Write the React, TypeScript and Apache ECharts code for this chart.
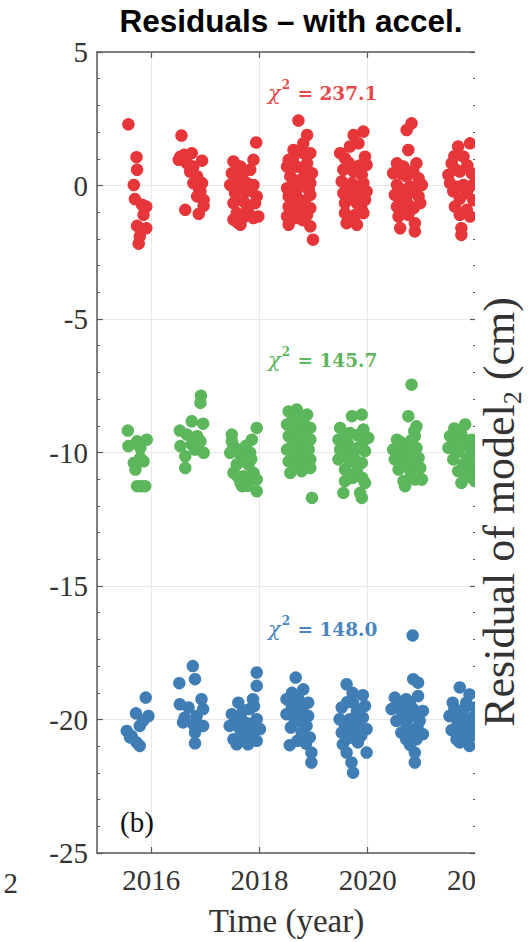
import React, { useEffect, useRef } from 'react';
import * as echarts from 'echarts';

const xTicks = [2016, 2018, 2020, 2022];
const yMin = -25;
const yMax = 5;
const yStep = 5;
const titleText = 'Residuals – with accel.';
const xName = 'Time (year)';
const rightAxisName = ['Residual of model', '2', ' (cm)'];
const panelTag = '(b)';
const cutTickLabel = '2';
const chiValues = ['237.1', '145.7', '148.0'];

const redPoints: [number, number][] = [
  [2015.58, 2.29], [2015.73, 1.06], [2015.74, 0.59], [2015.68, 0.02], [2015.70, -0.51], [2015.83, -0.72],
  [2015.91, -0.79], [2015.86, -1.10], [2015.74, -1.51], [2015.91, -1.60], [2015.79, -1.91], [2015.77, -2.18],
  [2016.56, 1.87], [2016.54, 1.08], [2016.61, 1.15], [2016.75, 1.21], [2016.66, 0.83], [2016.94, 0.93],
  [2016.72, 0.52], [2016.85, 0.34], [2016.78, 0.09], [2016.94, 0.09], [2016.91, -0.22], [2016.85, -0.41],
  [2016.97, -0.54], [2016.97, -0.76], [2016.63, -0.91], [2016.88, -1.06], [2016.51, 0.96], [2016.78, 0.71],
  [2016.88, -0.10],
  [2017.94, 1.61], [2017.52, 0.90], [2017.65, 0.71], [2017.89, 0.96], [2017.49, 0.46], [2017.71, 0.52],
  [2017.83, 0.59], [2017.46, 0.02], [2017.61, 0.21], [2017.77, 0.09], [2017.89, 0.02], [2017.55, -0.29],
  [2017.74, -0.22], [2017.95, -0.41], [2017.52, -0.66], [2017.71, -0.60], [2017.92, -0.66], [2017.58, -1.03],
  [2017.80, -1.03], [2017.98, -1.16], [2017.61, -1.41], [2017.89, -1.22], [2017.52, -1.28], [2017.65, -1.47],
  [2017.68, 0.35], [2017.66, -0.05], [2017.85, -0.20], [2017.78, -0.85], [2017.70, -1.20], [2017.60, 0.60],
  [2018.72, 2.43], [2018.88, 1.89], [2018.81, 1.58], [2018.63, 1.33], [2018.54, 0.96], [2018.81, 1.21],
  [2018.94, 1.21], [2018.51, 0.71], [2018.69, 0.71], [2018.88, 0.83], [2018.97, 0.46], [2018.57, 0.34],
  [2018.75, 0.21], [2018.94, 0.09], [2018.51, -0.10], [2018.69, -0.16], [2018.91, -0.16], [2018.54, -0.41],
  [2018.75, -0.54], [2018.94, -0.35], [2018.54, -0.79], [2018.72, -0.91], [2018.94, -0.85], [2018.51, -1.16],
  [2018.69, -1.22], [2018.54, -1.47], [2018.88, -1.10], [2018.94, -1.53], [2018.99, -2.03],
  [2018.62, 1.00], [2018.84, 0.50], [2018.62, 0.05], [2018.84, -0.60], [2018.63, -0.60], [2018.80, -1.30],
  [2018.62, -1.00], [2018.85, 0.10],
  [2019.74, 1.89], [2019.92, 2.02], [2019.83, 1.58], [2019.67, 1.46], [2019.95, 1.08], [2019.49, 1.21],
  [2019.58, 1.02], [2019.98, 0.77], [2019.55, 0.59], [2019.74, 0.52], [2019.89, 0.40], [2019.52, 0.15],
  [2019.71, 0.09], [2019.92, 0.09], [2019.55, -0.29], [2019.77, -0.29], [2019.98, -0.22], [2019.58, -0.66],
  [2019.80, -0.66], [2019.95, -0.54], [2019.58, -1.03], [2019.77, -1.10], [2019.92, -1.03], [2019.61, -1.41],
  [2019.80, -1.47],
  [2019.65, 0.85], [2019.85, 0.75], [2019.62, -0.05], [2019.86, -0.05], [2019.68, -0.45], [2019.88, -0.85],
  [2019.68, -1.25],
  [2020.81, 2.33], [2020.72, 2.08], [2020.75, 1.33], [2020.54, 0.83], [2020.90, 0.83], [2020.66, 0.71],
  [2020.47, 0.46], [2020.72, 0.34], [2020.94, 0.27], [2020.54, 0.02], [2020.78, -0.04], [2021.00, 0.02],
  [2020.50, -0.35], [2020.72, -0.41], [2020.94, -0.41], [2020.54, -0.79], [2020.75, -0.72], [2020.97, -0.66],
  [2020.57, -1.16], [2020.75, -1.10], [2020.60, -1.60], [2020.87, -1.41], [2020.87, -1.72],
  [2020.62, 0.45], [2020.84, 0.55], [2020.63, -0.15], [2020.85, -0.15], [2020.64, -0.55], [2020.85, -0.85],
  [2020.66, -0.95],
  [2021.67, 1.46], [2021.89, 1.58], [2021.55, 0.83], [2021.77, 1.08], [2021.49, 0.40], [2021.70, 0.52],
  [2021.92, 0.46], [2021.52, 0.09], [2021.77, 0.02], [2021.98, 0.09], [2021.58, -0.22], [2021.83, -0.29],
  [2021.61, -0.79], [2021.83, -0.91], [2021.70, -1.10], [2021.89, -1.16], [2021.73, -1.60], [2021.73, -1.85],
  [2021.62, 0.60], [2021.84, 0.75], [2021.66, -0.05], [2021.88, -0.05], [2021.70, -0.50], [2021.95, -0.55],
  [2021.60, 1.10],
];

const greenPoints: [number, number][] = [
  [2015.57, -9.18], [2015.58, -9.76], [2015.74, -9.58], [2015.92, -9.52], [2015.80, -10.20], [2015.68, -10.39],
  [2015.86, -10.33], [2015.71, -10.64], [2015.74, -11.26], [2015.89, -11.26], [2015.80, -9.83], [2015.82, -11.26],
  [2016.92, -7.87], [2016.91, -8.14], [2016.75, -8.83], [2016.96, -8.92], [2016.53, -9.18], [2016.66, -9.33],
  [2016.85, -9.39], [2016.54, -9.76], [2016.75, -9.70], [2016.91, -9.58], [2016.63, -10.14], [2016.81, -9.89],
  [2016.97, -10.01], [2016.63, -10.58],
  [2017.49, -9.33], [2017.95, -9.08], [2017.52, -9.76], [2017.86, -9.52], [2017.46, -10.01], [2017.65, -10.08],
  [2017.83, -10.01], [2017.58, -10.45], [2017.80, -10.45], [2017.52, -10.76], [2017.89, -10.76], [2017.71, -10.89],
  [2017.68, -11.26], [2017.95, -11.01], [2017.95, -11.45], [2017.65, -11.14], [2017.49, -9.58],
  [2017.60, -9.90], [2017.75, -9.75], [2017.70, -10.30], [2017.85, -10.25], [2017.60, -10.90], [2017.82, -10.95],
  [2017.78, -11.25],
  [2018.54, -8.46], [2018.69, -8.39], [2018.88, -8.58], [2018.51, -8.95], [2018.75, -8.89], [2018.94, -9.08],
  [2018.54, -9.39], [2018.72, -9.58], [2018.94, -9.52], [2018.51, -9.89], [2018.69, -9.95], [2018.91, -9.89],
  [2018.54, -10.33], [2018.75, -10.33], [2018.94, -10.26], [2018.57, -10.76], [2018.78, -10.70], [2018.94, -10.58],
  [2018.97, -11.70], [2018.66, -8.64], [2018.63, -9.14],
  [2018.62, -8.70], [2018.82, -8.75], [2018.63, -9.20], [2018.84, -9.25], [2018.62, -9.70], [2018.83, -9.75],
  [2018.63, -10.10], [2018.85, -10.10], [2018.66, -10.55], [2018.86, -10.50],
  [2019.71, -8.64], [2019.89, -8.58], [2019.49, -9.08], [2019.67, -9.27], [2019.92, -9.14], [2019.46, -9.52],
  [2019.64, -9.70], [2019.92, -9.58], [2019.49, -9.89], [2019.74, -10.01], [2019.95, -9.95], [2019.46, -10.26],
  [2019.67, -10.33], [2019.89, -10.39], [2019.58, -10.64], [2019.80, -10.70], [2019.58, -11.07], [2019.95, -11.14],
  [2019.55, -11.51], [2019.89, -11.70], [2019.86, -11.51], [2020.01, -9.45],
  [2019.58, -9.35], [2019.80, -9.35], [2019.62, -9.90], [2019.84, -9.80], [2019.78, -10.30], [2019.72, -10.95],
  [2019.55, -10.00], [2019.90, -10.95],
  [2020.81, -7.46], [2020.75, -8.64], [2020.90, -9.02], [2020.54, -9.52], [2020.87, -9.39], [2020.47, -9.89],
  [2020.69, -9.76], [2020.90, -9.83], [2020.50, -10.26], [2020.72, -10.20], [2020.94, -10.20], [2020.57, -10.64],
  [2020.78, -10.64], [2020.97, -10.58], [2020.66, -11.07], [2020.87, -11.01], [2021.00, -11.01], [2020.69, -11.26],
  [2020.60, -9.60], [2020.80, -9.55], [2020.62, -10.00], [2020.82, -10.00], [2020.66, -10.45], [2020.88, -10.40],
  [2020.80, -10.85], [2020.86, -9.20],
  [2021.80, -8.95], [2021.52, -9.39], [2021.73, -9.33], [2021.92, -9.52], [2021.49, -9.83], [2021.70, -9.83],
  [2021.92, -9.95], [2021.58, -10.26], [2021.83, -10.20], [2021.98, -10.39], [2021.67, -10.70], [2021.89, -10.70],
  [2021.73, -11.14], [2021.98, -11.07],
  [2021.62, -9.60], [2021.83, -9.70], [2021.64, -10.00], [2021.77, -10.45], [2021.80, -10.95], [2021.60, -9.10],
  [2021.95, -9.75],
];

const bluePoints: [number, number][] = [
  [2015.90, -19.18], [2015.72, -19.77], [2015.95, -19.87], [2015.55, -20.43], [2015.64, -20.62], [2015.79, -20.24],
  [2015.85, -20.05], [2015.73, -20.86], [2015.79, -20.99], [2015.61, -20.67],
  [2016.77, -18.00], [2016.81, -18.49], [2016.52, -18.64], [2016.93, -19.24], [2016.53, -19.43], [2016.69, -19.55],
  [2016.96, -19.61], [2016.62, -19.93], [2016.84, -19.87], [2016.78, -20.18], [2016.96, -20.24], [2016.81, -20.49],
  [2016.81, -20.89], [2016.59, -20.11],
  [2017.95, -18.24], [2017.95, -18.74], [2017.88, -19.24], [2017.61, -19.37], [2017.82, -19.61], [2017.49, -19.80],
  [2017.67, -19.99], [2017.95, -19.99], [2017.45, -20.24], [2017.64, -20.36], [2017.85, -20.36], [2018.01, -20.36],
  [2017.52, -20.74], [2017.73, -20.80], [2017.95, -20.80], [2017.58, -20.93], [2017.79, -20.93],
  [2017.70, -19.65], [2017.58, -20.05], [2017.78, -20.15], [2017.68, -20.55], [2017.88, -20.60], [2017.90, -19.50],
  [2018.67, -18.43], [2018.81, -18.87], [2018.50, -19.24], [2018.71, -19.18], [2018.90, -19.37], [2018.50, -19.80],
  [2018.68, -19.74], [2018.90, -19.87], [2018.65, -20.11], [2018.87, -20.24], [2018.56, -20.96], [2018.93, -20.67],
  [2018.96, -21.24], [2018.96, -21.61], [2018.78, -20.49],
  [2018.60, -19.50], [2018.80, -19.55], [2018.58, -20.30], [2018.75, -20.05], [2018.70, -20.80], [2018.86, -20.90],
  [2018.60, -19.00],
  [2019.61, -18.68], [2019.91, -19.09], [2019.52, -19.55], [2019.73, -19.37], [2019.95, -19.49], [2019.48, -19.99],
  [2019.67, -19.99], [2019.91, -19.93], [2019.52, -20.49], [2019.73, -20.43], [2019.98, -20.36], [2019.54, -20.93],
  [2019.82, -20.86], [2019.98, -21.24], [2019.61, -21.24], [2019.70, -21.61], [2019.73, -21.99],
  [2019.62, -19.35], [2019.80, -19.70], [2019.58, -20.25], [2019.82, -20.15], [2019.65, -20.70], [2019.88, -20.60],
  [2019.72, -19.00],
  [2020.83, -16.85], [2020.84, -18.49], [2020.93, -18.62], [2020.50, -19.18], [2020.71, -19.24], [2020.93, -19.12],
  [2020.44, -19.61], [2020.62, -19.68], [2020.84, -19.61], [2021.02, -19.68], [2020.53, -20.05], [2020.74, -19.99],
  [2020.96, -20.05], [2020.62, -20.49], [2020.84, -20.43], [2021.02, -20.55], [2020.71, -20.74], [2020.90, -20.74],
  [2020.87, -21.24], [2020.87, -21.61],
  [2020.60, -19.40], [2020.78, -19.40], [2020.70, -19.85], [2020.90, -19.85], [2020.72, -20.25], [2020.92, -20.30],
  [2020.78, -20.95],
  [2021.70, -18.80], [2021.88, -19.06], [2021.57, -19.37], [2021.82, -19.37], [2021.98, -19.55], [2021.51, -19.87],
  [2021.73, -19.87], [2021.94, -19.93], [2021.61, -20.36], [2021.82, -20.36], [2021.98, -20.24], [2021.70, -20.86],
  [2021.88, -20.99], [2021.64, -20.74],
  [2021.60, -19.60], [2021.78, -19.60], [2021.66, -20.10], [2021.88, -20.10], [2021.76, -20.60], [2021.55, -20.40],
  [2021.92, -20.60],
];

const RED = '#E6363A';
const GREEN = '#5CB65C';
const BLUE = '#3F7DB4';
const SERIF = '"Liberation Serif", "Times New Roman", serif';
const MATHSERIF = '"DejaVu Serif", serif';
const SANS = '"Liberation Sans", Arial, sans-serif';
const AXIS = '#595959';
const LABEL = '#333333';

function chiText(value: string, color: string, x: number, y: number) {
  return {
    type: 'text',
    x,
    y,
    z: 110,
    style: {
      text: `{i|χ}{s|2}{n| = ${value}}`,
      align: 'left',
      verticalAlign: 'middle',
      rich: {
        i: { fontFamily: MATHSERIF, fontStyle: 'italic', fontSize: 21, fill: color, lineHeight: 24 },
        s: { fontFamily: MATHSERIF, fontWeight: 'bold', fontSize: 12, fill: color, lineHeight: 13, padding: [0, 1, 16, 1] },
        n: { fontFamily: MATHSERIF, fontWeight: 'bold', fontSize: 18.5, fill: color, lineHeight: 24 },
      },
    },
  };
}

function verticalName(parts: string[], x: number, y: number) {
  return {
    type: 'text', x, y, z: 110, rotation: Math.PI / 2,
    style: {
      text: `{a|${parts[0]}}{s|${parts[1]}}{a|${parts[2]}}`,
      align: 'center', verticalAlign: 'middle',
      rich: {
        a: { fontFamily: SERIF, fontSize: 44, fill: LABEL, lineHeight: 44 },
        s: { fontFamily: SERIF, fontSize: 26, fill: LABEL, lineHeight: 26, padding: [26, 0, 0, 0] },
      },
    },
  };
}

export default function App() {
  const ref = useRef<HTMLDivElement>(null);
  useEffect(() => {
    if (!ref.current) return;
    const chart = echarts.init(ref.current, undefined, { renderer: 'svg' });
    const scatter = (data: [number, number][], color: string) => ({
      type: 'scatter', data, symbolSize: 12.5, itemStyle: { color, opacity: 1 }, z: 3,
    });
    const option: any = {
      animation: false,
      backgroundColor: '#ffffff',
      grid: { left: 97, right: 53, top: 52, bottom: 88, containLabel: false },
      xAxis: [
        {
          type: 'value',
          min: 2015,
          max: 2022,
          position: 'bottom',
          name: xName,
          nameLocation: 'middle',
          nameGap: 51,
          nameTextStyle: { fontFamily: SERIF, fontSize: 33, color: LABEL },
          axisLine: { show: true, onZero: false, lineStyle: { color: AXIS, width: 1.5 } },
          axisTick: { show: true, inside: true, length: 6, customValues: xTicks, lineStyle: { color: AXIS, width: 1.2 } },
          axisLabel: {
            customValues: xTicks,
            formatter: (v: number) => String(v),
            fontFamily: SERIF,
            fontSize: 29,
            color: LABEL,
            margin: 12,
          },
          splitLine: { show: true, lineStyle: { color: '#e9e9e9', width: 1 } },
        },
        {
          type: 'value',
          min: 2015,
          max: 2022,
          position: 'top',
          axisLine: { show: true, onZero: false, lineStyle: { color: AXIS, width: 1.5 } },
          axisTick: { show: true, inside: true, length: 6, customValues: xTicks, lineStyle: { color: AXIS, width: 1.2 } },
          axisLabel: { show: false },
          splitLine: { show: false },
        },
      ],
      yAxis: [
        {
          type: 'value',
          min: yMin,
          max: yMax,
          interval: yStep,
          position: 'left',
          axisLine: { show: true, onZero: false, lineStyle: { color: AXIS, width: 1.5 } },
          axisTick: { show: true, inside: true, length: 6, lineStyle: { color: AXIS, width: 1.2 } },
          minorTick: { show: true, splitNumber: 5, length: 3, lineStyle: { color: AXIS, width: 1 } },
          axisLabel: { formatter: (v: number) => String(v), fontFamily: SERIF, fontSize: 29, color: LABEL, margin: 9 },
          splitLine: { show: true, lineStyle: { color: '#e9e9e9', width: 1 } },
        },
        {
          type: 'value',
          min: yMin,
          max: yMax,
          interval: yStep,
          position: 'right',
          axisLine: { show: true, onZero: false, lineStyle: { color: AXIS, width: 1.5 } },
          axisTick: { show: true, inside: true, length: 6, lineStyle: { color: AXIS, width: 1.2 } },
          minorTick: { show: true, splitNumber: 5, length: 3, lineStyle: { color: AXIS, width: 1 } },
          axisLabel: { show: false },
          splitLine: { show: false },
        },
      ],
      series: [scatter(redPoints, RED), scatter(greenPoints, GREEN), scatter(bluePoints, BLUE)],
      graphic: [
        { type: 'rect', z: 105, shape: { x: 475, y: 0, width: 60, height: 942 }, style: { fill: '#ffffff' } },
        {
          type: 'text', x: 291, y: 21, z: 110,
          style: { text: titleText, fontFamily: SANS, fontWeight: 'bold', fontSize: 31.5, fill: '#000', align: 'center', verticalAlign: 'middle' },
        },
        {
          type: 'text', x: 120, y: 822, z: 110,
          style: { text: panelTag, fontFamily: SERIF, fontSize: 29, fill: '#111', align: 'left', verticalAlign: 'middle' },
        },
        {
          type: 'text', x: 18, y: 883, z: 110,
          style: { text: cutTickLabel, fontFamily: SERIF, fontSize: 29, fill: LABEL, align: 'right', verticalAlign: 'middle' },
        },
        verticalName(rightAxisName, 499, 512),
        chiText(chiValues[0], '#E8484A', 268, 93),
        chiText(chiValues[1], '#5CB65C', 268, 360),
        chiText(chiValues[2], '#4A86BE', 268, 629),
      ],
    };
    chart.setOption(option);
    return () => chart.dispose();
  }, []);
  return <div ref={ref} style={{ position: 'absolute', left: 0, top: 0, width: 529, height: 942 }} />;
}
